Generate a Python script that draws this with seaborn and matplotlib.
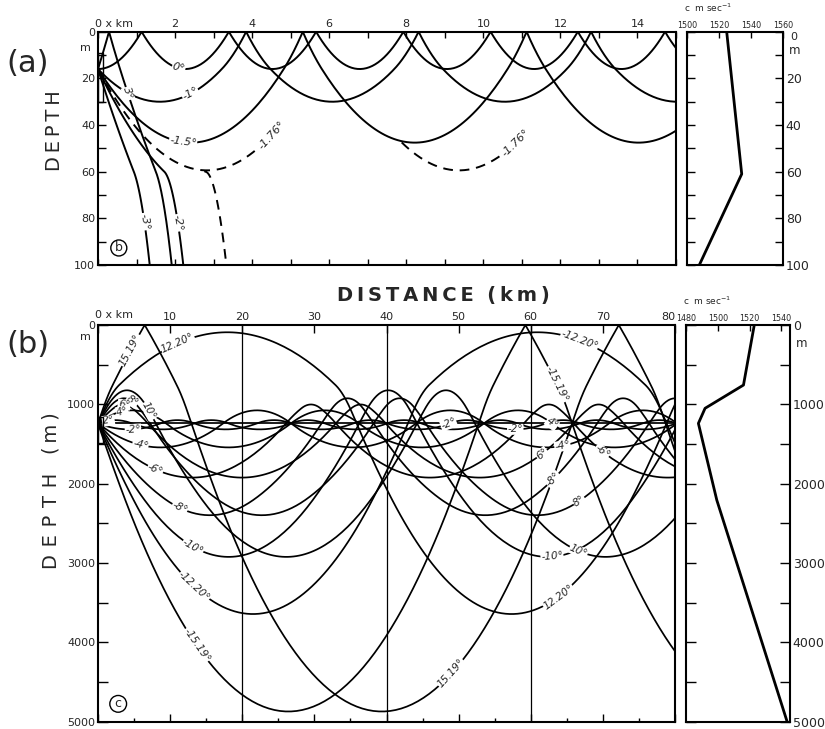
import numpy as np
import pandas as pd
import matplotlib
matplotlib.use("Agg")
import matplotlib.pyplot as plt
import matplotlib.transforms as mtransforms
from matplotlib import font_manager
from matplotlib.patches import Rectangle
import seaborn as sns

# ---------------- panel (a): shallow water ----------------
a_prof_depth = [0, 61, 100]                 # m
a_prof_speed = [1524.8, 1534.2, 1507.7]     # m/s, profile drawn beside (a)
# sound-speed model used when tracing the rays of panel (a)
a_model_depth = [0, 16, 60, 100]
a_model_speed = [1526.39, 1527.0, 1527.73, 1511.7]
a_source_depth = 16
a_source_span = (9, 30)                     # m, source marker on the depth axis
a_angles = [3, 0, -1, -1.5, -2, -3]         # solid rays, deg (+ = upward)
a_critical_angle = -1.76                    # dashed limiting ray
a_range_km = 15.0

# ---------------- panel (b): deep water ----------------
b_prof_depth = [0, 757, 1050, 1240, 2207, 5000]
b_prof_speed = [1523.0, 1516.2, 1492.0, 1487.8, 1499.4, 1543.7]
b_source_depth = 1240
b_source_span = (1160, 1490)
b_angles = [15.19, 12.20, 10, 8, 6, 4, 2, 0, -2, -4, -6, -8, -10, -12.20, -15.19]
b_range_km = 80
b_marker_km = [20, 40, 60]

# ray labels: (text, ray, approx. x [km], approx. depth [m])
a_labels = [("0°", "0", 2.1, 15), ("3°", "3", 1.0, 25), ("-1°", "-1", 2.4, 27),
            ("-1.5°", "-1.5", 2.2, 47), ("-1.76°", "-1.76", 4.6, 46),
            ("-1.76°", "-1.76", 11.0, 49), ("-2°", "-2", 2.09, 82),
            ("-3°", "-3", 1.09, 82)]
b_labels = [("15.19°", "15.19", 4.0, 290), ("12.20°", "12.2", 11.1, 190),
            ("10°", "10", 8.3, 1020), ("8°", "8", 5.3, 880), ("6°", "6", 3.7, 930),
            ("4°", "4", 3.2, 1050), ("2°", "2", 1.4, 1170), ("-2°", "-2", 4.9, 1290),
            ("-4°", "-4", 5.8, 1600), ("-6°", "-6", 8.3, 1790), ("-8°", "-8", 11.4, 2300),
            ("-10°", "-10", 12.8, 2850), ("-12.20°", "-12.2", 13.5, 3290),
            ("-15.19°", "-15.19", 13.9, 3950),
            ("-12.20°", "-12.2", 66.7, 150), ("-15.19°", "-15.19", 64.9, 680),
            ("4°", "4", 63.9, 1130), ("-2°", "-2", 57.8, 1380), ("-2°", "-2", 48.9, 1320),
            ("-4°", "-4", 64.2, 1400), ("-6°", "-6", 70.6, 1510), ("6°", "6", 62.3, 1720),
            ("-8°", "-8", 66.4, 2250), ("8°", "8", 68.6, 2490), ("10°", "10", 67.2, 2760),
            ("-10°", "-10", 63.2, 3000), ("12.20°", "12.2", 64.4, 3480),
            ("15.19°", "15.19", 48.9, 4380)]


def trace(depths, speeds, z0, angle, x_end, x0=0.0, start_down=None, npts=60):
    """Ray through a piecewise-linear sound-speed profile (circular arcs per layer),
    reflected at the surface, stopped at the deepest profile level."""
    depths = np.asarray(depths, float)
    speeds = np.asarray(speeds, float)
    cz = lambda z: float(np.interp(z, depths, speeds))
    phi = -np.radians(angle)              # positive = downward
    if phi == 0:
        if start_down is None:
            if cz(z0 - 0.5) < cz(z0):
                phi = -1e-9
            elif cz(z0 + 0.5) < cz(z0):
                phi = 1e-9
            else:
                return np.array([x0, x_end]), np.array([z0, z0])
        else:
            phi = 1e-9 if start_down else -1e-9
    a = np.cos(phi) / cz(z0)
    xs, zs = [x0], [z0]
    x, z = x0, z0
    for _ in range(20000):
        if x >= x_end:
            break
        down = phi > 0
        side = "right" if down else "left"
        i = int(np.searchsorted(depths, z, side=side)) - 1
        i = min(max(i, 0), len(depths) - 2)
        zt, zb = depths[i], depths[i + 1]
        ct, cb = speeds[i], speeds[i + 1]
        g = (cb - ct) / (zb - zt)
        if down:
            k = a * cb
            if k < 1:
                phi1, z1 = np.arccos(k), zb
            else:
                phi1, z1 = -np.arccos(min(a * ct, 1.0)), zt
        else:
            k = a * ct
            if k < 1:
                phi1, z1 = -np.arccos(k), zt
            else:
                phi1, z1 = np.arccos(min(a * cb, 1.0)), zb
        if abs(g) < 1e-12:
            x1 = x + abs(z1 - z) / np.tan(abs(phi))
            px, pz = np.array([x1]), np.array([z1])
        else:
            ph = np.linspace(phi, phi1, npts)[1:]
            px = x + (np.sin(phi) - np.sin(ph)) / (a * g)
            pz = z + (np.cos(ph) - np.cos(phi)) / (a * g)
            pz[-1] = z1
            x1 = px[-1]
        if x1 - x < 1e-9 and abs(z1 - z) < 1e-9:
            xs.append(x_end); zs.append(z)
            break
        xs.extend(px); zs.extend(pz)
        x, z, phi = x1, z1, phi1
        if z <= depths[0] + 1e-9 and phi < 0:
            phi = -phi
        if z >= depths[-1] - 1e-9 and phi > 0:
            break
    return np.asarray(xs), np.asarray(zs)


def runs(mask):
    idx = np.flatnonzero(mask)
    if len(idx) == 0:
        return []
    breaks = np.flatnonzero(np.diff(idx) > 1)
    starts = np.r_[idx[0], idx[breaks + 1]]
    ends = np.r_[idx[breaks], idx[-1]]
    return list(zip(starts, ends + 1))


# ---- trace panel (a)
a_paths = {}
a_solid = []
for ang in a_angles:
    x, z = trace(a_model_depth, a_model_speed, a_source_depth, ang, a_range_km * 1000)
    a_paths[f"{ang:g}"] = (x / 1000, z)
    a_solid.append(pd.DataFrame({"x": x / 1000, "z": z, "ray": f"{ang:g}"}))
a_solid = pd.concat(a_solid, ignore_index=True)

xc, zc = trace(a_model_depth, a_model_speed, a_source_depth, a_critical_angle,
               a_range_km * 1000)
a_paths[f"{a_critical_angle:g}"] = (xc / 1000, zc)
first = np.flatnonzero(xc < 4000)
k_turn = first[np.argmax(zc[first])]
x_turn = xc[k_turn]
# the limiting ray splits at the speed maximum: one branch returns, one sinks
xd, zd = trace(a_model_depth, a_model_speed, a_model_depth[2], 0.0,
               a_range_km * 1000, x0=x_turn, start_down=True)
keep = (xc <= x_turn) | ((zc >= 46) & (xc < 11500))
a_dash = [pd.DataFrame({"x": xc[s:e] / 1000, "z": zc[s:e], "ray": f"c{n}"})
          for n, (s, e) in enumerate(runs(keep))]
a_dash.append(pd.DataFrame({"x": np.r_[xc[k_turn], xd] / 1000,
                            "z": np.r_[zc[k_turn], zd], "ray": "deep"}))
a_dash = pd.concat(a_dash, ignore_index=True)

# ---- trace panel (b)
b_paths = {}
b_rays = []
for ang in b_angles:
    x, z = trace(b_prof_depth, b_prof_speed, b_source_depth, ang, b_range_km * 1000)
    b_paths[f"{ang:g}"] = (x / 1000, z)
    b_rays.append(pd.DataFrame({"x": x / 1000, "z": z, "ray": f"{ang:g}"}))
b_rays = pd.concat(b_rays, ignore_index=True)

# ---------------- figure ----------------
sns.set_theme(style="ticks")
plt.rcParams["font.family"] = ["DejaVu Sans"]
plt.rcParams["axes.linewidth"] = 1.5
installed = {f.name for f in font_manager.fontManager.ttflist}
narrow = "Liberation Sans Narrow" if "Liberation Sans Narrow" in installed else "DejaVu Sans"
narrow_size = 7 if narrow != "DejaVu Sans" else 5.8

W, H = 825, 729
fig = plt.figure(figsize=(W / 100, H / 100), dpi=100)
fig.patch.set_facecolor("white")


def box(x0, y0, x1, y1):
    return [x0 / W, 1 - y1 / H, (x1 - x0) / W, (y1 - y0) / H]


ax_a = fig.add_axes(box(98, 31.7, 676, 265))
ax_ap = fig.add_axes(box(687, 31.7, 783, 265))
ax_b = fig.add_axes(box(98, 325, 675, 721.7))
ax_bp = fig.add_axes(box(686, 325, 790, 721.7))

tick_kw = dict(direction="in", color="black", width=1.0, labelsize=8, pad=2)

# ---- panel (a) rays
sns.lineplot(data=a_solid, x="x", y="z", units="ray", estimator=None, sort=False,
             color="black", lw=1.4, ax=ax_a, legend=False)
sns.lineplot(data=a_dash, x="x", y="z", units="ray", estimator=None, sort=False,
             color="black", lw=1.4, ax=ax_a, legend=False, linestyle=(0, (5, 3.5)))
ax_a.set_xlim(0, a_range_km)
ax_a.set_ylim(100, 0)
ax_a.set_xticks(np.arange(0, 15, 2))
ax_a.set_xticklabels([""] + [str(v) for v in range(2, 15, 2)])
ax_a.set_xticks(np.arange(0, 15.1, 1), minor=True)
ax_a.set_yticks(np.arange(0, 101, 20))
ax_a.set_yticks(np.arange(0, 101, 10), minor=True)
ax_a.tick_params(axis="x", which="both", top=True, bottom=True, labeltop=True,
                 labelbottom=False, length=4, **tick_kw)
ax_a.tick_params(axis="y", which="both", left=True, right=False, length=6, **tick_kw)

# ---- panel (a) profile
sns.lineplot(x=a_prof_speed, y=a_prof_depth, sort=False, estimator=None,
             color="black", lw=2.0, ax=ax_ap)
ax_ap.set_xlim(1500, 1560)
ax_ap.set_ylim(100, 0)
ax_ap.set_xticks([1500, 1520, 1540, 1560])
ax_ap.set_yticks(np.arange(0, 101, 20))
ax_ap.set_yticks(np.arange(0, 101, 10), minor=True)
ax_ap.tick_params(axis="x", top=True, bottom=False, labeltop=True, labelbottom=False,
                  length=4, **{**tick_kw, "labelsize": narrow_size, "pad": 1.5})
ax_ap.tick_params(axis="y", which="both", left=True, right=True, labelleft=False,
                  labelright=True, length=6, **{**tick_kw, "labelsize": 9})

# ---- panel (b) rays
for xv in b_marker_km:
    ax_b.axvline(xv, color="black", lw=0.9, zorder=1)
sns.lineplot(data=b_rays, x="x", y="z", units="ray", estimator=None, sort=False,
             color="black", lw=1.25, ax=ax_b, legend=False)
ax_b.set_xlim(0, b_range_km)
ax_b.set_ylim(5000, 0)
ax_b.set_xticks(np.arange(0, 81, 10))
ax_b.set_xticklabels([""] + [str(v) for v in range(10, 81, 10)])
ax_b.set_xticks(np.arange(0, 81, 5), minor=True)
ax_b.set_yticks(np.arange(0, 5001, 1000))
ax_b.set_yticks(np.arange(0, 5001, 500), minor=True)
ax_b.tick_params(axis="x", which="major", top=True, bottom=True, labeltop=True,
                 labelbottom=False, length=6, **tick_kw)
ax_b.tick_params(axis="x", which="minor", top=False, bottom=True, length=3, **tick_kw)
ax_b.tick_params(axis="y", which="both", left=True, right=False, length=7, **tick_kw)

# ---- panel (b) profile
sns.lineplot(x=b_prof_speed, y=b_prof_depth, sort=False, estimator=None,
             color="black", lw=2.0, ax=ax_bp)
ax_bp.set_xlim(1480, 1545.5)
ax_bp.set_ylim(5000, 0)
ax_bp.set_xticks([1480, 1500, 1520, 1540])
ax_bp.set_yticks(np.arange(0, 5001, 1000))
ax_bp.set_yticks(np.arange(0, 5001, 500), minor=True)
ax_bp.tick_params(axis="x", top=True, bottom=False, labeltop=True, labelbottom=False,
                  length=4, **{**tick_kw, "labelsize": narrow_size, "pad": 1.5})
ax_bp.tick_params(axis="y", which="both", left=True, right=True, labelleft=False,
                  labelright=True, length=7, **{**tick_kw, "labelsize": 9})

for ax in (ax_a, ax_ap, ax_b, ax_bp):
    ax.set_xlabel("")
    ax.set_ylabel("")
    ax.set_facecolor("white")
    for sp in ax.spines.values():
        sp.set_visible(True)
        sp.set_linewidth(1.5)
        sp.set_color("black")
for ax in (ax_ap, ax_bp):
    for lab in ax.get_xticklabels():
        lab.set_fontfamily(narrow)
# last distance label sits just inside the right edge
ax_b.get_xticklabels()[-1].set_horizontalalignment("right")
# the surface "0" of the shallow profile sits a little lower and to the right
zero_lab = ax_ap.get_yticklabels()[0]
zero_lab.set_transform(zero_lab.get_transform() +
                       mtransforms.ScaledTranslation(3 / 72, -3 / 72,
                                                     fig.dpi_scale_trans))
zero_lab.set_fontsize(8)

# source markers on the depth axes
for ax, (z0, z1) in ((ax_a, a_source_span), (ax_b, b_source_span)):
    tr = mtransforms.blended_transform_factory(ax.transAxes, ax.transData)
    ax.add_patch(Rectangle((0, z0), 0.009, z1 - z0, transform=tr, fill=False,
                           ec="black", lw=1.0, clip_on=False, zorder=6))


def put_labels(ax, paths, specs, size=8):
    for text, key, xa, za in specs:
        xk, zk = paths[key]
        pts = ax.transData.transform(np.column_stack([xk, zk]))
        tgt = ax.transData.transform([[xa, za]])[0]
        k = int(np.argmin(np.hypot(pts[:, 0] - tgt[0], pts[:, 1] - tgt[1])))
        k0, k1 = max(k - 3, 0), min(k + 3, len(xk) - 1)
        dx, dy = pts[k1] - pts[k0]
        ang = np.degrees(np.arctan2(dy, dx))
        if ang > 90:
            ang -= 180
        elif ang < -90:
            ang += 180
        ax.text(xk[k], zk[k], text, rotation=ang, rotation_mode="anchor",
                ha="center", va="center", fontsize=size, style="italic",
                bbox=dict(fc="white", ec="none", pad=0.3), zorder=5)


put_labels(ax_a, a_paths, a_labels)
put_labels(ax_b, b_paths, b_labels, size=7.5)

# axis annotations
for ax, zm in ((ax_a, 7), (ax_b, 150)):
    tr = mtransforms.blended_transform_factory(ax.transAxes, ax.transData)
    ax.text(-0.012, zm, "m", transform=tr, ha="right", va="center", fontsize=8)
    ax.text(-0.005, 1.012, "0 x km", transform=ax.transAxes, ha="left",
            va="bottom", fontsize=8)
for ax, zm in ((ax_ap, 8), (ax_bp, 230)):
    tr = mtransforms.blended_transform_factory(ax.transAxes, ax.transData)
    ax.text(1.06, zm, "m", transform=tr, ha="left", va="center", fontsize=8.5)
    ax.annotate("c  m sec$^{-1}$", xy=(0, 1), xycoords="axes fraction",
                xytext=(-2, 13), textcoords="offset points", ha="left",
                va="bottom", fontsize=6.5)

ax_a.text(0.036, 0.073, "b", transform=ax_a.transAxes, ha="center", va="center",
          fontsize=9, bbox=dict(boxstyle="circle,pad=0.12", fc="none", ec="black", lw=1))
ax_b.text(0.035, 0.045, "c", transform=ax_b.transAxes, ha="center", va="center",
          fontsize=9, bbox=dict(boxstyle="circle,pad=0.15", fc="none", ec="black", lw=1))

ts = "\u2009"
fig.text(28 / W, 1 - 63 / H, "(a)", fontsize=22, ha="center", va="center")
fig.text(28 / W, 1 - 345 / H, "(b)", fontsize=22, ha="center", va="center")
fig.text(55 / W, 1 - 131 / H, ts.join("DEPTH"), fontsize=14, rotation=90,
         ha="center", va="center")
fig.text(51 / W, 1 - 491 / H,
         (2 * ts).join("DEPTH") + "   " + ts.join("(m)"), fontsize=14,
         rotation=90, ha="center", va="center")
fig.text(443 / W, 1 - 295 / H, ts.join("DISTANCE") + "  " + ts.join("(km)"),
         fontsize=14, ha="center", va="center", fontweight="bold")

fig.savefig("out.png", dpi=100, facecolor="white")
